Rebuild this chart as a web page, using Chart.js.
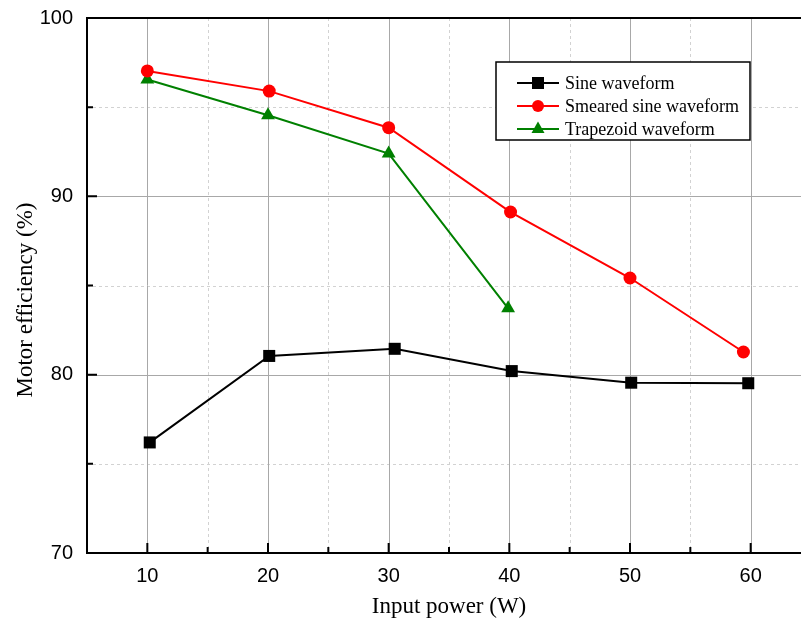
<!DOCTYPE html>
<html>
<head>
<meta charset="utf-8">
<title>Motor efficiency vs input power</title>
<script src="https://cdn.jsdelivr.net/npm/chart.js@4/dist/chart.umd.min.js"></script>
<style>
  html, body { margin: 0; padding: 0; background: #fff; overflow: hidden; }
  #wrap { width: 801px; height: 625px; overflow: hidden; }
  canvas { display: block; }
</style>
</head>
<body>
<div id="wrap"><canvas id="eff" width="830" height="625"></canvas></div>
<script>
// Measured efficiency per drive waveform
const sinePower = [10.2, 20.1, 30.5, 40.2, 50.1, 59.8];
const sineEff = [76.2, 81.05, 81.45, 80.2, 79.55, 79.52];

const smearedPower = [10, 20.1, 30, 40.1, 50, 59.4];
const smearedEff = [97.03, 95.9, 93.85, 89.12, 85.42, 81.27];

const trapPower = [10, 20, 30, 39.9];
const trapEff = [96.55, 94.55, 92.4, 83.72];

const seriesLabels = ['Sine waveform', 'Smeared sine waveform', 'Trapezoid waveform'];

const xMajor = [10, 20, 30, 40, 50, 60];
const xMinor = [15, 25, 35, 45, 55];
const yMajor = [80, 90];
const yMinor = [75, 85, 95];

const SANS = '"Liberation Sans", Arial, sans-serif';
const SERIF = '"Liberation Serif", "Times New Roman", serif';

const pts = (xs, ys) => xs.map((x, i) => ({ x, y: ys[i] }));

// marker drawn in the legend box
function drawMarker(ctx, style, x, y, color) {
  ctx.fillStyle = color;
  ctx.beginPath();
  if (style === 'rect') {
    ctx.rect(x - 6, y - 6, 12, 12);
  } else if (style === 'circle') {
    ctx.arc(x, y, 6, 0, Math.PI * 2);
  } else {
    ctx.moveTo(x, y - 7.5);
    ctx.lineTo(x + 6.5, y + 4);
    ctx.lineTo(x - 6.5, y + 4);
    ctx.closePath();
  }
  ctx.fill();
}

// fixed axis box sizes, no extra room for edge labels
const fixBox = (w, h) => s => {
  if (w) s.width = w;
  if (h) s.height = h;
  s.paddingTop = s.paddingBottom = s.paddingLeft = s.paddingRight = 0;
};

const frame = {
  id: 'frame',
  beforeDatasetsDraw(chart) {
    const { ctx, chartArea: a, scales: { x, y } } = chart;
    ctx.save();
    ctx.lineWidth = 1;
    // minor grid, dashed
    ctx.strokeStyle = '#d2d2d2';
    ctx.setLineDash([3, 3]);
    ctx.beginPath();
    xMinor.forEach(v => { const p = Math.round(x.getPixelForValue(v)) + 0.5; ctx.moveTo(p, a.top); ctx.lineTo(p, a.bottom); });
    yMinor.forEach(v => { const p = Math.round(y.getPixelForValue(v)) + 0.5; ctx.moveTo(a.left, p); ctx.lineTo(a.right, p); });
    ctx.stroke();
    // major grid, solid
    ctx.setLineDash([]);
    ctx.strokeStyle = '#a8a8a8';
    ctx.beginPath();
    xMajor.forEach(v => { const p = Math.round(x.getPixelForValue(v)) + 0.5; ctx.moveTo(p, a.top); ctx.lineTo(p, a.bottom); });
    yMajor.forEach(v => { const p = Math.round(y.getPixelForValue(v)) + 0.5; ctx.moveTo(a.left, p); ctx.lineTo(a.right, p); });
    ctx.stroke();
    ctx.restore();
  },
  afterDatasetsDraw(chart) {
    const { ctx, chartArea: a, scales: { x, y } } = chart;
    ctx.save();
    // axis frame
    ctx.strokeStyle = '#000';
    ctx.lineWidth = 2;
    ctx.strokeRect(a.left, a.top, a.right - a.left, a.bottom - a.top);
    // inward ticks
    ctx.beginPath();
    xMajor.forEach(v => { const p = x.getPixelForValue(v); ctx.moveTo(p, a.bottom); ctx.lineTo(p, a.bottom - 10); });
    xMinor.forEach(v => { const p = x.getPixelForValue(v); ctx.moveTo(p, a.bottom); ctx.lineTo(p, a.bottom - 6); });
    yMajor.forEach(v => { const p = y.getPixelForValue(v); ctx.moveTo(a.left, p); ctx.lineTo(a.left + 10, p); });
    yMinor.forEach(v => { const p = y.getPixelForValue(v); ctx.moveTo(a.left, p); ctx.lineTo(a.left + 6, p); });
    ctx.stroke();

    // y axis title
    ctx.fillStyle = '#000';
    ctx.font = '23px ' + SERIF;
    ctx.textAlign = 'center';
    ctx.textBaseline = 'middle';
    ctx.translate(26, 300);
    ctx.rotate(-Math.PI / 2);
    ctx.fillText('Motor efficiency (%)', 0, 0);
    ctx.restore();

    // legend box
    ctx.save();
    const bx = 496, by = 62, bw = 254, bh = 78;
    ctx.fillStyle = '#fff';
    ctx.fillRect(bx, by, bw, bh);
    ctx.strokeStyle = '#000';
    ctx.lineWidth = 1.5;
    ctx.strokeRect(bx, by, bw, bh);
    ctx.font = '18px ' + SERIF;
    ctx.textAlign = 'left';
    ctx.textBaseline = 'middle';
    chart.data.datasets.forEach((ds, i) => {
      const ry = by + 21 + i * 23;
      ctx.strokeStyle = ds.borderColor;
      ctx.lineWidth = 2;
      ctx.beginPath();
      ctx.moveTo(517, ry);
      ctx.lineTo(559, ry);
      ctx.stroke();
      drawMarker(ctx, ds.pointStyle, 538, ry, ds.borderColor);
      ctx.fillStyle = '#000';
      ctx.fillText(ds.label, 565, ry + 1);
    });
    ctx.restore();
  }
};

new Chart(document.getElementById('eff'), {
  type: 'line',
  data: {
    datasets: [
      { label: seriesLabels[0], data: pts(sinePower, sineEff), borderColor: '#000000', backgroundColor: '#000000', pointStyle: 'rect', pointRadius: 8.5 },
      { label: seriesLabels[1], data: pts(smearedPower, smearedEff), borderColor: '#ff0000', backgroundColor: '#ff0000', pointStyle: 'circle', pointRadius: 6.5 },
      { label: seriesLabels[2], data: pts(trapPower, trapEff), borderColor: '#008000', backgroundColor: '#008000', pointStyle: 'triangle', pointRadius: 8 },
    ].map(d => Object.assign(d, { borderWidth: 2, pointBorderWidth: 0, tension: 0, fill: false })),
  },
  options: {
    responsive: false,
    animation: false,
    layout: { padding: { top: 18, right: 19, left: 0, bottom: 0 } },
    plugins: { legend: { display: false }, tooltip: { enabled: false } },
    scales: {
      x: {
        type: 'linear',
        min: 5, max: 65,
        afterFit: fixBox(0, 72),
        grid: { display: false, drawTicks: false },
        border: { display: false },
        ticks: {
          stepSize: 5, autoSkip: false, maxRotation: 0, padding: 11,
          color: '#000', font: { family: SANS, size: 20 },
          callback: v => (v % 10 === 0 && v >= 10 && v <= 60) ? v : '',
        },
        title: {
          display: true, text: 'Input power (W)', color: '#000',
          font: { family: SERIF, size: 23 }, padding: { top: 0, bottom: 4 },
        },
      },
      y: {
        min: 70, max: 100,
        afterFit: fixBox(87, 0),
        grid: { display: false, drawTicks: false },
        border: { display: false },
        ticks: {
          stepSize: 5, autoSkip: false, padding: 14,
          color: '#000', font: { family: SANS, size: 20 },
          callback: v => (v % 10 === 0) ? v : '',
        },
      },
    },
  },
  plugins: [frame],
});
</script>
</body>
</html>
